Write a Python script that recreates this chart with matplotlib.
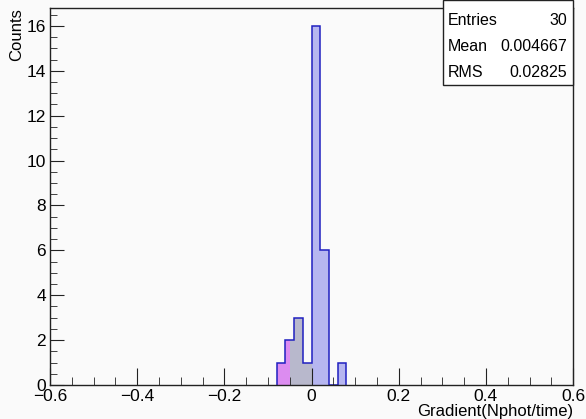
import matplotlib

matplotlib.use("Agg")
import matplotlib.pyplot as plt
from matplotlib.ticker import MultipleLocator

# main histogram (bin width 0.02, only the non-empty range)
bin_edges = [-0.08, -0.06, -0.04, -0.02, 0.0, 0.02, 0.04, 0.06, 0.08]
counts = [1, 2, 3, 1, 16, 6, 0, 1]

# coloured overlay regions on the negative side
magenta_edges = [-0.08, -0.06, -0.05]
magenta_counts = [1, 2]
grey_edges = [-0.05, -0.04, -0.02, 0.0]
grey_counts = [2, 3, 1]

stats_names = ["Entries", "Mean", "RMS"]
stats_values = ["30", "0.004667", "0.02825"]

plt.rcParams["font.family"] = ["Liberation Sans", "DejaVu Sans"]


def fmt_x(v, pos):
    if abs(v) < 1e-9:
        return "0"
    s = f"{abs(v):.1f}"
    return ("\u2212" + s) if v < 0 else s


fig = plt.figure(figsize=(5.86, 4.19), dpi=100, facecolor="#fafafa")
ax = fig.add_axes([0.0853, 0.081, 0.8927, 0.9])
ax.set_facecolor("#fafafa")

ax.stairs(counts, bin_edges, fill=True, color="#b6b6f0", lw=0)
ax.stairs(magenta_counts, magenta_edges, fill=True, color="#dc8cf0", lw=0)
ax.stairs(grey_counts, grey_edges, fill=True, color="#b8b8cc", lw=0)
ax.stairs(counts, bin_edges, baseline=0, color="#2020c0", lw=1.1)

ax.set_xlim(-0.6, 0.6)
ax.set_ylim(0, 16.8)
ax.xaxis.set_major_locator(MultipleLocator(0.2))
ax.xaxis.set_minor_locator(MultipleLocator(0.05))
ax.yaxis.set_major_locator(MultipleLocator(2))
ax.yaxis.set_minor_locator(MultipleLocator(0.5))
ax.xaxis.set_major_formatter(fmt_x)
ax.tick_params(which="both", direction="in", top=False, right=False,
               labelsize=12.5, color="#222222")
ax.tick_params(axis="x", which="major", length=12, pad=3)
ax.tick_params(axis="x", which="minor", length=6)
ax.tick_params(axis="y", which="major", length=10, pad=3)
ax.tick_params(axis="y", which="minor", length=5)
for s in ax.spines.values():
    s.set_linewidth(1.0)
    s.set_color("#222222")

fig.text(0.978, 0.018, "Gradient(Nphot/time)", ha="right", va="center", fontsize=12)
fig.text(0.028, 0.981, "Counts", ha="center", va="top", rotation=90, fontsize=12)

# stats box
bx0, bx1, by0, by1 = 0.756, 0.978, 0.797, 1.0
fig.patches.append(plt.Rectangle((bx0, by0), bx1 - bx0, by1 - by0, transform=fig.transFigure,
                                 facecolor="white", edgecolor="#222222", lw=1.0))
row_y = [0.952, 0.89, 0.828]
for name, val, y in zip(stats_names, stats_values, row_y):
    fig.text(bx0 + 0.008, y, name, ha="left", va="center", fontsize=11.5)
    fig.text(bx1 - 0.01, y, val, ha="right", va="center", fontsize=11.5)

fig.savefig("out.png", dpi=100, facecolor=fig.get_facecolor())
